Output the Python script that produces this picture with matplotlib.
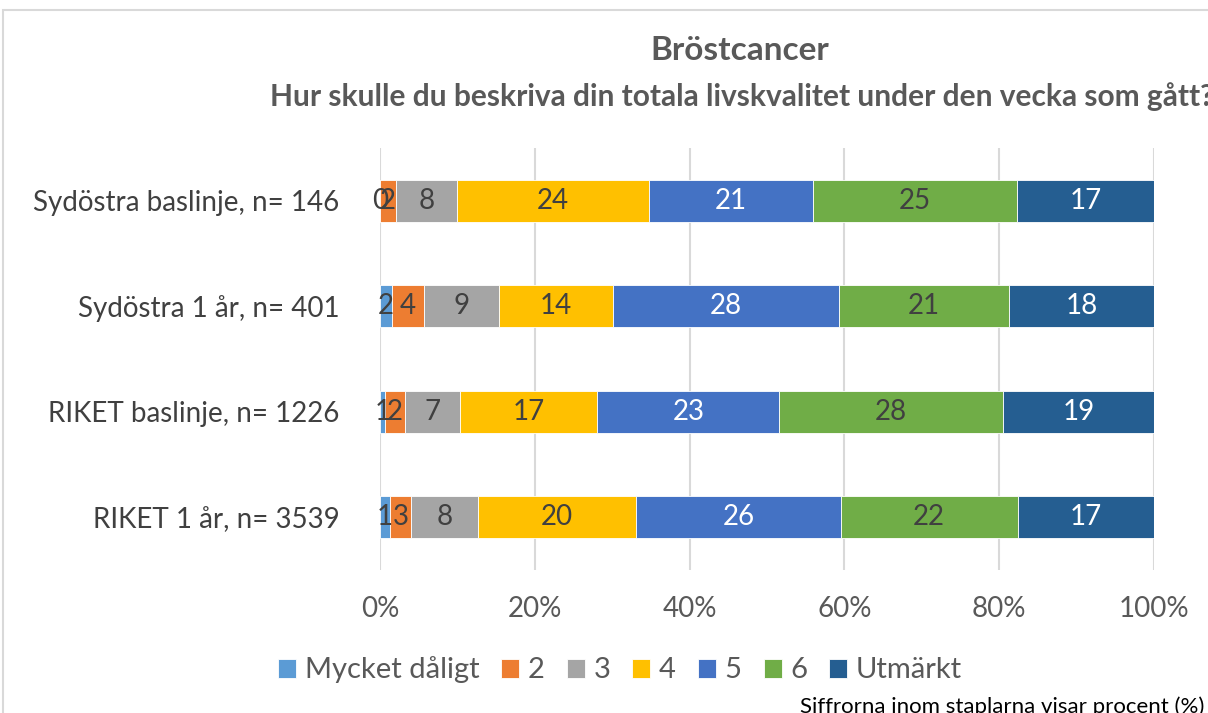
import matplotlib
matplotlib.use("Agg")
import matplotlib.pyplot as plt
from matplotlib.patches import Rectangle
from matplotlib.ticker import FuncFormatter, MultipleLocator

plt.rcParams['font.family'] = ['Lato', 'DejaVu Sans']

rows = ['Sydöstra baslinje, n= 146', 'Sydöstra 1 år, n= 401',
        'RIKET baslinje, n= 1226', 'RIKET 1 år, n= 3539']
answers = ['Mycket dåligt', '2', '3', '4', '5', '6', 'Utmärkt']

# segment widths (%) per row
mycket_daligt = [0.0, 1.5, 0.7, 1.3]
v2 = [2.1, 4.2, 2.5, 2.7]
v3 = [7.8, 9.7, 7.1, 8.6]
v4 = [24.9, 14.7, 17.8, 20.5]
v5 = [21.1, 29.2, 23.5, 26.4]
v6 = [26.4, 22.0, 28.9, 22.9]
utmarkt = [17.7, 18.7, 19.5, 17.6]

# printed labels inside the bars
labels = [
    ['0', '2', '8', '24', '21', '25', '17'],
    ['2', '4', '9', '14', '28', '21', '18'],
    ['1', '2', '7', '17', '23', '28', '19'],
    ['1', '3', '8', '20', '26', '22', '17'],
]

colors = ['#5B9BD5', '#ED7D31', '#A5A5A5', '#FFC000', '#4472C4', '#70AD47', '#255E91']
label_colors = ['#404040', '#404040', '#404040', '#404040', 'white', '#404040', 'white']
series = [mycket_daligt, v2, v3, v4, v5, v6, utmarkt]

W, H = 1208, 713
fig = plt.figure(figsize=(W / 100, H / 100), dpi=100)
ax = fig.add_axes([380 / W, 1 - 570 / H, (1154 - 380) / W, (570 - 148) / H])

ypos = list(range(len(rows)))
left = [0.0] * len(rows)
for k, vals in enumerate(series):
    ax.barh(ypos, vals, left=left, height=0.4, color=colors[k],
            edgecolor='white', linewidth=0.6, label=answers[k], zorder=3)
    for i, v in enumerate(vals):
        ax.text(left[i] + v / 2, ypos[i], labels[i][k], ha='center', va='center',
                fontsize=20, color=label_colors[k], zorder=4)
    left = [a + b for a, b in zip(left, vals)]

ax.set_xlim(0, 100)
ax.set_ylim(len(rows) - 0.5, -0.5)
ax.set_yticks(ypos)
ax.set_yticklabels(rows, fontsize=20, color='#404040')
ax.xaxis.set_major_locator(MultipleLocator(20))
ax.xaxis.set_major_formatter(FuncFormatter(lambda x, p: f'{x:.0f}%'))
ax.tick_params(axis='x', labelsize=20, labelcolor='#595959', length=0, pad=19)
ax.tick_params(axis='y', length=0, pad=29)
ax.grid(axis='x', color='#D9D9D9', linewidth=1.5, zorder=0)
for s in ax.spines.values():
    s.set_visible(False)

fig.text(740 / W, 1 - 50 / H, 'Bröstcancer', ha='center', va='center',
         fontsize=24, fontweight='bold', color='#595959')
fig.text(742 / W, 1 - 97 / H,
         'Hur skulle du beskriva din totala livskvalitet under den vecka som gått?',
         ha='center', va='center', fontsize=21.5, fontweight='bold', color='#595959')

fig.legend(loc='center', bbox_to_anchor=(620 / W, 1 - 670 / H), ncol=7,
           frameon=False, fontsize=21, labelcolor='#595959', handlelength=0.62,
           handleheight=0.62, handletextpad=0.3, columnspacing=0.75)

fig.text(800 / W, 1 - 707 / H, 'Siffrorna inom staplarna visar procent (%)',
         ha='left', va='center', fontsize=16, color='black')

fig.patches.append(Rectangle((3 / W, -0.1), 1.2, 1 - 10 / H + 0.1,
                             transform=fig.transFigure, fill=False,
                             edgecolor='#D9D9D9', linewidth=1.5))

fig.savefig('out.png', dpi=100)
